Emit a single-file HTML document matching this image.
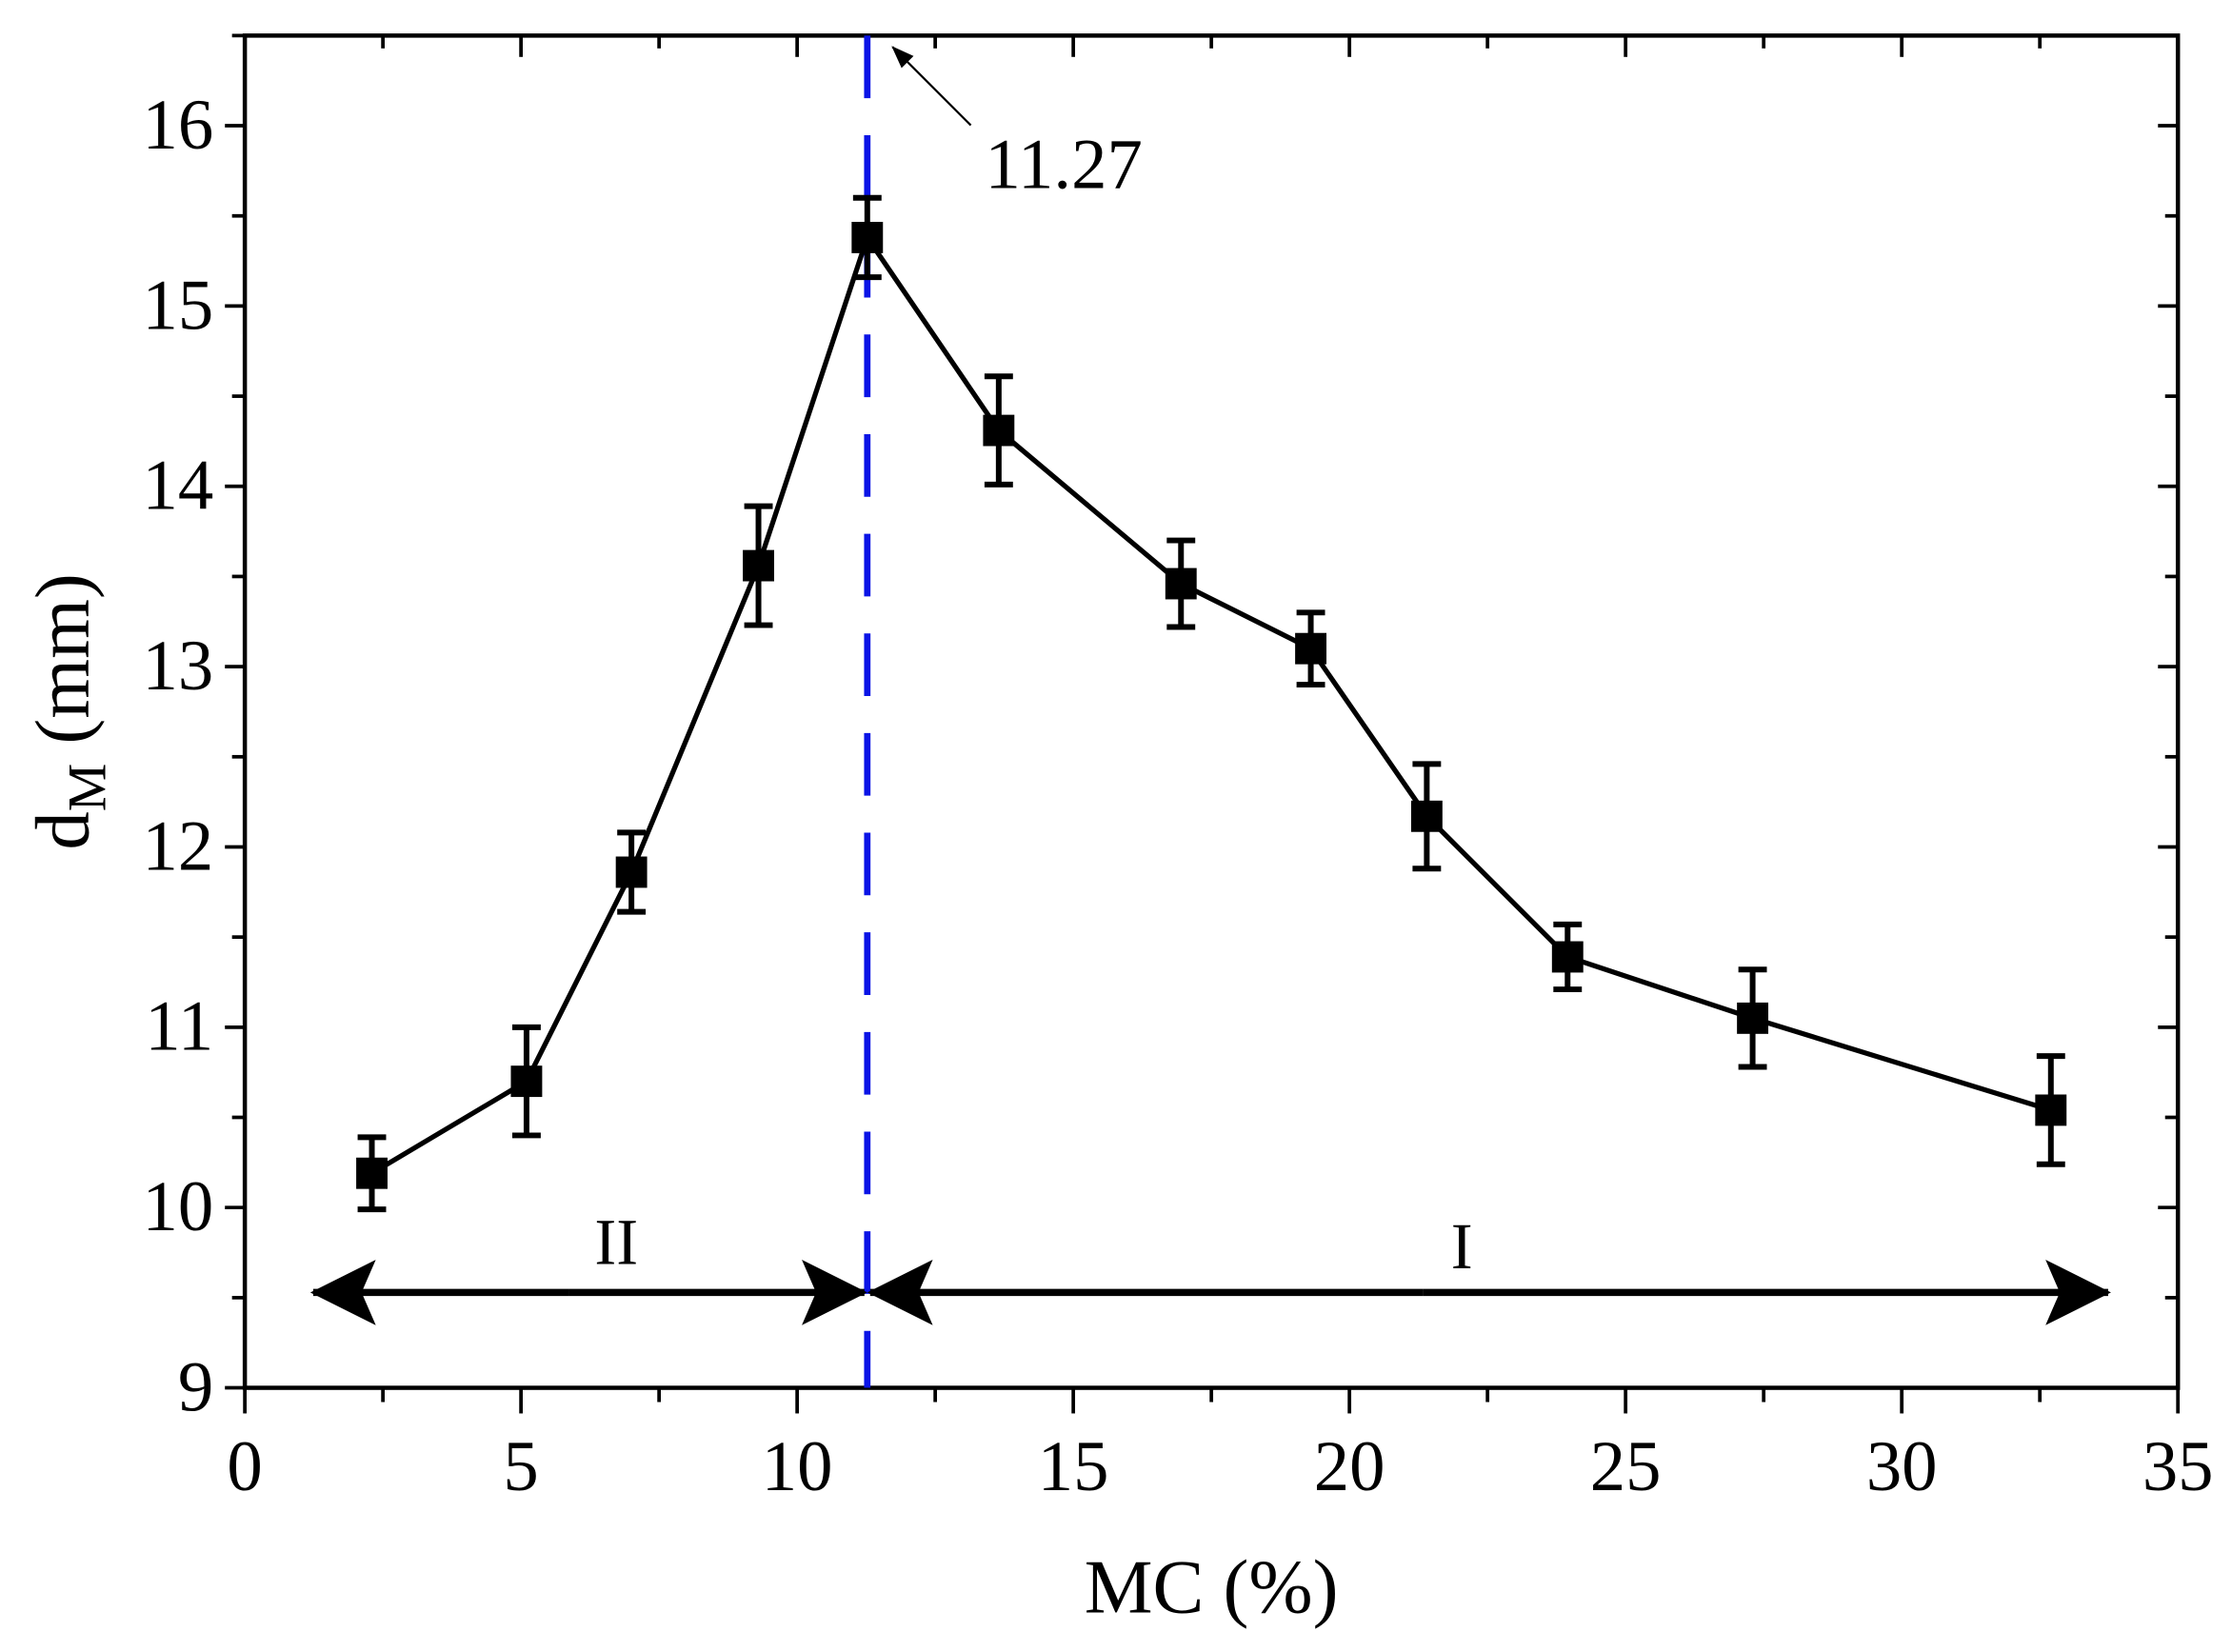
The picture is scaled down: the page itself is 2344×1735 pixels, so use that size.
<!DOCTYPE html>
<html><head><meta charset="utf-8"><style>
html,body{margin:0;padding:0;background:#fff;}
svg{display:block;}
svg text{font-family:"Liberation Serif","Times New Roman",serif;fill:#000;}
</style></head><body>
<svg id="chart" width="2344" height="1735" viewBox="0 0 1568 1160.6" preserveAspectRatio="none" xmlns="http://www.w3.org/2000/svg" font-family="Liberation Serif, serif">
<defs>
<marker id="ah" markerWidth="46" markerHeight="46" refX="44" refY="23" orient="auto" markerUnits="userSpaceOnUse" viewBox="0 0 46 46"><path d="M0,0 L46,23 L0,46 L10,23 Z" fill="#000"/></marker>
<marker id="ahs" markerWidth="16" markerHeight="16" refX="15" refY="8" orient="auto" markerUnits="userSpaceOnUse" viewBox="0 0 16 16"><path d="M0,2 L16,8 L0,14 Z" fill="#000"/></marker>
</defs>
<g id="plot"></g>
</svg>
<script>
const categories = [2.3, 5.1, 7.0, 9.3, 11.27, 13.65, 16.95, 19.3, 21.4, 23.95, 27.3, 32.7];
const values = [10.19, 10.70, 11.86, 13.56, 15.38, 14.31, 13.46, 13.10, 12.17, 11.39, 11.05, 10.54];
const errors = [0.20, 0.30, 0.22, 0.33, 0.22, 0.30, 0.24, 0.20, 0.29, 0.18, 0.27, 0.30];
const xTicks = [0, 5, 10, 15, 20, 25, 30, 35];
const yTicks = [9, 10, 11, 12, 13, 14, 15, 16];
const critical = [11.27];

const L=172, R=1530, T=25, B=975;
const X0=0, X1=35, Y0=9, Y1=16.5;
const sx = v => L + (v - X0) / (X1 - X0) * (R - L);
const sy = v => B - (v - Y0) / (Y1 - Y0) * (B - T);
const NS = "http://www.w3.org/2000/svg";
const g = document.getElementById('plot');
function mk(tag, attrs, parent) {
  const e = document.createElementNS(NS, tag);
  for (const k in attrs) e.setAttribute(k, attrs[k]);
  (parent || g).appendChild(e);
  return e;
}

const frame = mk('rect', {x:L, y:T, width:R-L, height:B-T, fill:'none', stroke:'#000', 'stroke-width':3});



for (let i = 0; i < xTicks.length; i++) {
  const v = xTicks[i], x = sx(v);
  const t = mk('line', {x1:x, y1:B, x2:x, y2:B+18, stroke:'#000', 'stroke-width':2.5});
  
  
  const tt = mk('line', {x1:x, y1:T, x2:x, y2:T+15, stroke:'#000', 'stroke-width':2.5});
  
  
  const lb = mk('text', {x:x, y:B+72, 'font-size':50, 'text-anchor':'middle', 'font-family':'Liberation Serif, serif'});
  lb.textContent = v;
  
  
  if (i < xTicks.length - 1) {
    const m = sx(v + 2.5);
    const mt = mk('line', {x1:m, y1:B, x2:m, y2:B+10, stroke:'#000', 'stroke-width':2.5});
    
    
    const mtt = mk('line', {x1:m, y1:T, x2:m, y2:T+9, stroke:'#000', 'stroke-width':2.5});
    
    
  }
}
for (let i = 0; i < yTicks.length; i++) {
  const v = yTicks[i], y = sy(v);
  const t = mk('line', {x1:L-14, y1:y, x2:L, y2:y, stroke:'#000', 'stroke-width':2.5});
  
  
  const tr = mk('line', {x1:R-14, y1:y, x2:R, y2:y, stroke:'#000', 'stroke-width':2.5});
  
  
  const lb = mk('text', {x:L-22, y:y+16, 'font-size':50, 'text-anchor':'end', 'font-family':'Liberation Serif, serif'});
  lb.textContent = v;
  
  
  const m = sy(v + 0.5);
  const mt = mk('line', {x1:L-9, y1:m, x2:L, y2:m, stroke:'#000', 'stroke-width':2.5});
  
  
  const mtr = mk('line', {x1:R-9, y1:m, x2:R, y2:m, stroke:'#000', 'stroke-width':2.5});
  
  
}

const cx = sx(critical[0]);
const cl = mk('line', {x1:cx, y1:T, x2:cx, y2:B, stroke:'#0a14e6', 'stroke-width':4.5, 'stroke-dasharray':'44 26'});



let d = '';
for (let i = 0; i < categories.length; i++) d += (i ? 'L' : 'M') + sx(categories[i]) + ',' + sy(values[i]);
const path = mk('path', {d:d, fill:'none', stroke:'#000', 'stroke-width':3.5});



for (let i = 0; i < categories.length; i++) {
  const x = sx(categories[i]), y = sy(values[i]);
  const y1 = sy(values[i] + errors[i]), y2 = sy(values[i] - errors[i]);
  const eb = mk('path', {d:`M${x},${y1}V${y2}M${x-10},${y1}H${x+10}M${x-10},${y2}H${x+10}`, fill:'none', stroke:'#000', 'stroke-width':4});
  
  
  const p = mk('rect', {x:x-11, y:y-11, width:22, height:22, fill:'#000'});
  
  
}

const ay = 908;
const a1 = mk('line', {x1:400, y1:ay, x2:220, y2:ay, stroke:'#000', 'stroke-width':5, 'marker-end':'url(#ah)'});


const a1b = mk('line', {x1:400, y1:ay, x2:sx(critical[0])-2, y2:ay, stroke:'#000', 'stroke-width':5, 'marker-end':'url(#ah)'});


const a2 = mk('line', {x1:1000, y1:ay, x2:sx(critical[0])+2, y2:ay, stroke:'#000', 'stroke-width':5, 'marker-end':'url(#ah)'});


const a2b = mk('line', {x1:1000, y1:ay, x2:1481, y2:ay, stroke:'#000', 'stroke-width':5, 'marker-end':'url(#ah)'});



const r2 = mk('text', {x:433, y:888, 'font-size':46, 'text-anchor':'middle', 'font-family':'Liberation Serif, serif'});
r2.textContent = 'II';


const r1 = mk('text', {x:1027, y:891, 'font-size':46, 'text-anchor':'middle', 'font-family':'Liberation Serif, serif'});
r1.textContent = 'I';



const an = mk('line', {x1:682, y1:88, x2:627, y2:33, stroke:'#000', 'stroke-width':1.5, 'marker-end':'url(#ahs)'});


const at = mk('text', {x:692, y:132, 'font-size':50, 'font-family':'Liberation Serif, serif'});
at.textContent = critical[0].toFixed(2);



const xt = mk('text', {x:851, y:1133, 'font-size':54, 'text-anchor':'middle', 'font-family':'Liberation Serif, serif'});
xt.textContent = 'MC (%)';


const yt = mk('text', {x:0, y:0, 'font-size':54, 'text-anchor':'middle', 'font-family':'Liberation Serif, serif', transform:'translate(62,500) rotate(-90)'});


const ts1 = mk('tspan', {}, yt); ts1.textContent = 'd';
const ts2 = mk('tspan', {dy:12, 'font-size':38}, yt); ts2.textContent = 'M';
const ts3 = mk('tspan', {dy:-12}, yt); ts3.textContent = ' (mm)';
</script>
</body></html>
